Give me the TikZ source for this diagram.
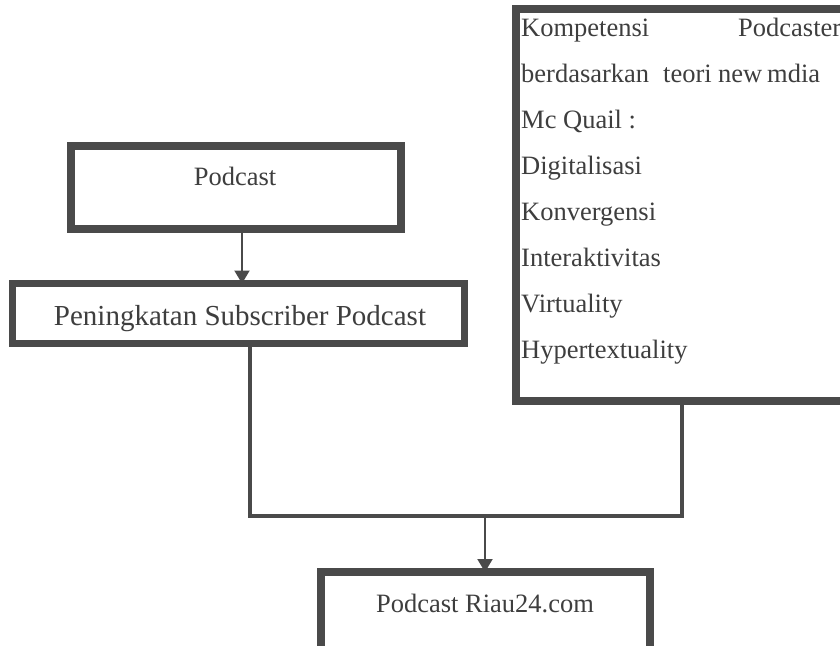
\documentclass[tikz,border=0pt]{standalone}
\usepackage{fontspec}
\setmainfont{Liberation Serif}
\usetikzlibrary{arrows.meta}
\definecolor{bord}{HTML}{4A4A4A}
\definecolor{txt}{HTML}{3E3E3E}
\begin{document}
\begin{tikzpicture}[x=1pt,y=-1pt,
  boxA/.style={draw=bord,line width=8pt,fill=white,inner sep=0pt,outer sep=0pt},
  lbl/.style={text=txt,font=\fontsize{26.5}{30}\selectfont,inner sep=0pt,anchor=base},
  lblL/.style={lbl,anchor=base west},
  thinarrow/.style={draw=bord,line width=2pt,-{Triangle[width=15pt,length=13pt]}},
  thickline/.style={draw=bord,line width=4.5pt}]
\useasboundingbox (0,0) rectangle (840,645);
\clip (0,0) rectangle (840,645);
% boxes (centerline of border)
\node[boxA,minimum width=330pt,minimum height=83pt] (pod) at (236,187.5) {};
\node[boxA,line width=7pt,minimum width=452pt,minimum height=60pt] (pen) at (238.5,313.5) {};
\node[boxA,minimum width=344pt,minimum height=392pt] (komp) at (688,205) {};
\node[boxA,minimum width=329pt,minimum height=130pt] (riau) at (485.5,637) {};
% texts
\node[lbl] (tpod) at (235,185) {Podcast};
\node[lbl,font=\fontsize{29}{32}\selectfont] (tpen) at (240,325) {Peningkatan Subscriber Podcast};
\node[lbl] (triau) at (485,612) {Podcast Riau24.com};
\node[lblL] (k1a) at (521,36) {Kompetensi};
\node[lblL] (k1b) at (738,36) {Podcaster};
\node[lblL] (k2a) at (521,82.1) {berdasarkan};
\node[lblL] (k2b) at (663,82.1) {teori};
\node[lblL] (k2c) at (718,82.1) {new};
\node[lblL] (k2d) at (767,82.1) {mdia};
\node[lblL] (k3) at (521,128.2) {Mc Quail :};
\node[lblL] (k4) at (521,174.3) {Digitalisasi};
\node[lblL] (k5) at (521,220.4) {Konvergensi};
\node[lblL] (k6) at (521,266.5) {Interaktivitas};
\node[lblL] (k7) at (521,312.6) {Virtuality};
\node[lblL] (k8) at (521,358.7) {Hypertextuality};
% connectors
\coordinate (a1) at (242,0);
\coordinate (j1) at (250,516);
\coordinate (j2) at (682,516);
\coordinate (j3) at (485,516);
\draw[thinarrow] (pod.south -| a1) -- (pen.north -| a1);
\draw[thickline] (pen.south -| j1) -- (j1) -- (j2) -- (komp.south -| j2);
\draw[thinarrow] (j3) -- (riau.north -| j3);
\end{tikzpicture}
\end{document}
